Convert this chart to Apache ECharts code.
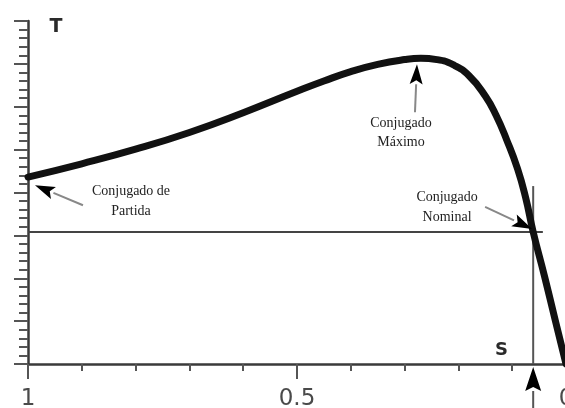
<!DOCTYPE html>
<html>
<head>
<meta charset="utf-8">
<script src="https://cdn.jsdelivr.net/npm/echarts@6/dist/echarts.min.js"></script>
<style>
  html, body { margin: 0; padding: 0; background: #fff; }
  #chart { width: 565px; height: 408px; }
</style>
</head>
<body>
<div id="chart"></div>
<script>
// Torque–slip curve of an induction motor (slip s runs from 1 down to 0)
const slip   = [1.00, 0.90, 0.80, 0.70, 0.60, 0.50, 0.45, 0.40, 0.35, 0.30, 0.27, 0.24, 0.21, 0.18, 0.15, 0.13, 0.11, 0.09, 0.075, 0.061, 0.04, 0.02, 0.00];
const torque = [4.36, 4.67, 5.01, 5.40, 5.86, 6.36, 6.60, 6.82, 6.99, 7.10, 7.13, 7.10, 6.98, 6.72, 6.25, 5.80, 5.22, 4.55, 3.88, 3.08, 2.05, 1.02, 0.00];

// Rated operating point
const nominalSlip = 0.061;
const nominalTorque = 3.08;
const nominalLineEnd = 0.043;   // horizontal guide stops just past the curve
const nominalLineTop = 4.15;    // vertical guide top

// Axis tick labels shown
const xTickLabels = { 1: '1', 0.5: '0.5', 0: '0' };

// Annotations: arrow tip in data units, tail/text offsets in px
const notes = [
  { lines: ['Conjugado de', 'Partida'], tip: [0.987, 4.17], tail: [48, 20], text: [96, 6], gap: 20 },
  { lines: ['Conjugado', 'Máximo'],     tip: [0.277, 6.99], tail: [-2, 48], text: [-16, 59], gap: 19 },
  { lines: ['Conjugado', 'Nominal'],    tip: [0.063, 3.15], tail: [-47, -22], text: [-85, -32], gap: 20 }
];

const chart = echarts.init(document.getElementById('chart'), null, { renderer: 'canvas' });
const axisColor = '#3a3a3a';

chart.setOption({
  animation: false,
  backgroundColor: '#fff',
  grid: { left: 28, top: 21, width: 538, bottom: 44, containLabel: false, outerBoundsMode: 'none' },
  xAxis: {
    type: 'value', min: 0, max: 1, interval: 0.5, inverse: true,
    axisLine: { show: true, onZero: false, lineStyle: { color: axisColor, width: 2.5 } },
    axisTick: { show: true, length: 15, lineStyle: { color: '#555', width: 2 } },
    minorTick: { show: true, splitNumber: 5, length: 7, lineStyle: { color: '#555', width: 2 } },
    splitLine: { show: false },
    axisLabel: {
      show: true, margin: 24, showMinLabel: true, showMaxLabel: true,
      fontFamily: 'DejaVu Sans', fontSize: 23, color: '#4a4a4a',
      formatter: v => xTickLabels[v] !== undefined ? xTickLabels[v] : ''
    }
  },
  yAxis: {
    type: 'value', min: 0, max: 8, interval: 1,
    axisLine: { show: true, onZero: false, lineStyle: { color: axisColor, width: 2.5 } },
    axisTick: { show: true, length: 14, lineStyle: { color: '#555', width: 2 } },
    minorTick: { show: true, splitNumber: 5, length: 9, lineStyle: { color: '#555', width: 2 } },
    splitLine: { show: false },
    axisLabel: { show: false }
  },
  series: [
    {
      name: 'nominal-h', type: 'line', clip: false, silent: true, symbol: 'none',
      lineStyle: { color: '#444', width: 2 },
      data: [[1, nominalTorque], [nominalLineEnd, nominalTorque]]
    },
    {
      name: 'nominal-v', type: 'line', clip: false, silent: true, symbol: 'none',
      lineStyle: { color: '#555', width: 2 },
      data: [[nominalSlip, 0], [nominalSlip, nominalLineTop]]
    },
    {
      name: 'T(s)', type: 'line', clip: false, silent: true, symbol: 'none', smooth: 0.5,
      lineStyle: { color: '#111', width: 7, cap: 'round', join: 'round' },
      data: slip.map((s, i) => [s, torque[i]]),
      z: 5
    }
  ]
});

// Arrow with a grey shaft and solid black head
function arrow(tail, tip, headLen, headW, shaftColor) {
  const dx = tip[0] - tail[0], dy = tip[1] - tail[1];
  const len = Math.hypot(dx, dy);
  const ux = dx / len, uy = dy / len;
  const bx = tip[0] - ux * headLen, by = tip[1] - uy * headLen;
  const px = -uy * headW / 2, py = ux * headW / 2;
  return [
    { type: 'line', shape: { x1: tail[0], y1: tail[1], x2: bx, y2: by }, style: { stroke: shaftColor, lineWidth: 2 }, z: 20 },
    { type: 'polygon', shape: { points: [[tip[0], tip[1]], [bx + px, by + py], [bx + ux * 4, by + uy * 4], [bx - px, by - py]] }, style: { fill: '#000' }, z: 21 }
  ];
}

const gfx = [];
notes.forEach(n => {
  const p = chart.convertToPixel({ gridIndex: 0 }, n.tip);
  gfx.push(...arrow([p[0] + n.tail[0], p[1] + n.tail[1]], p, 20, 13, '#888'));
  n.lines.forEach((t, i) => {
    gfx.push({
      type: 'text', z: 22,
      style: {
        text: t, x: p[0] + n.text[0], y: p[1] + n.text[1] + i * n.gap,
        align: 'center', verticalAlign: 'middle',
        font: '14px "Liberation Serif", "DejaVu Serif", serif', fill: '#222'
      }
    });
  });
});

// Marker arrow under the axis pointing at the rated slip
const under = chart.convertToPixel({ gridIndex: 0 }, [nominalSlip, 0]);
gfx.push(...arrow([under[0], 410], [under[0], under[1] + 3], 24, 16, '#555'));

// Axis names
const yTop = chart.convertToPixel({ gridIndex: 0 }, [1, 8]);
const xRight = chart.convertToPixel({ gridIndex: 0 }, [0.12, 0]);
gfx.push({ type: 'text', z: 22, style: { text: 'T', x: yTop[0] + 28, y: yTop[1] + 6, align: 'center', verticalAlign: 'middle', font: 'bold 19px "DejaVu Sans", sans-serif', fill: '#2a2a2a' } });
gfx.push({ type: 'text', z: 22, style: { text: 'S', x: xRight[0] + 0, y: xRight[1] - 14, align: 'center', verticalAlign: 'middle', font: 'bold 18px "DejaVu Sans", sans-serif', fill: '#2a2a2a' } });

chart.setOption({ graphic: gfx });
</script>
</body>
</html>
